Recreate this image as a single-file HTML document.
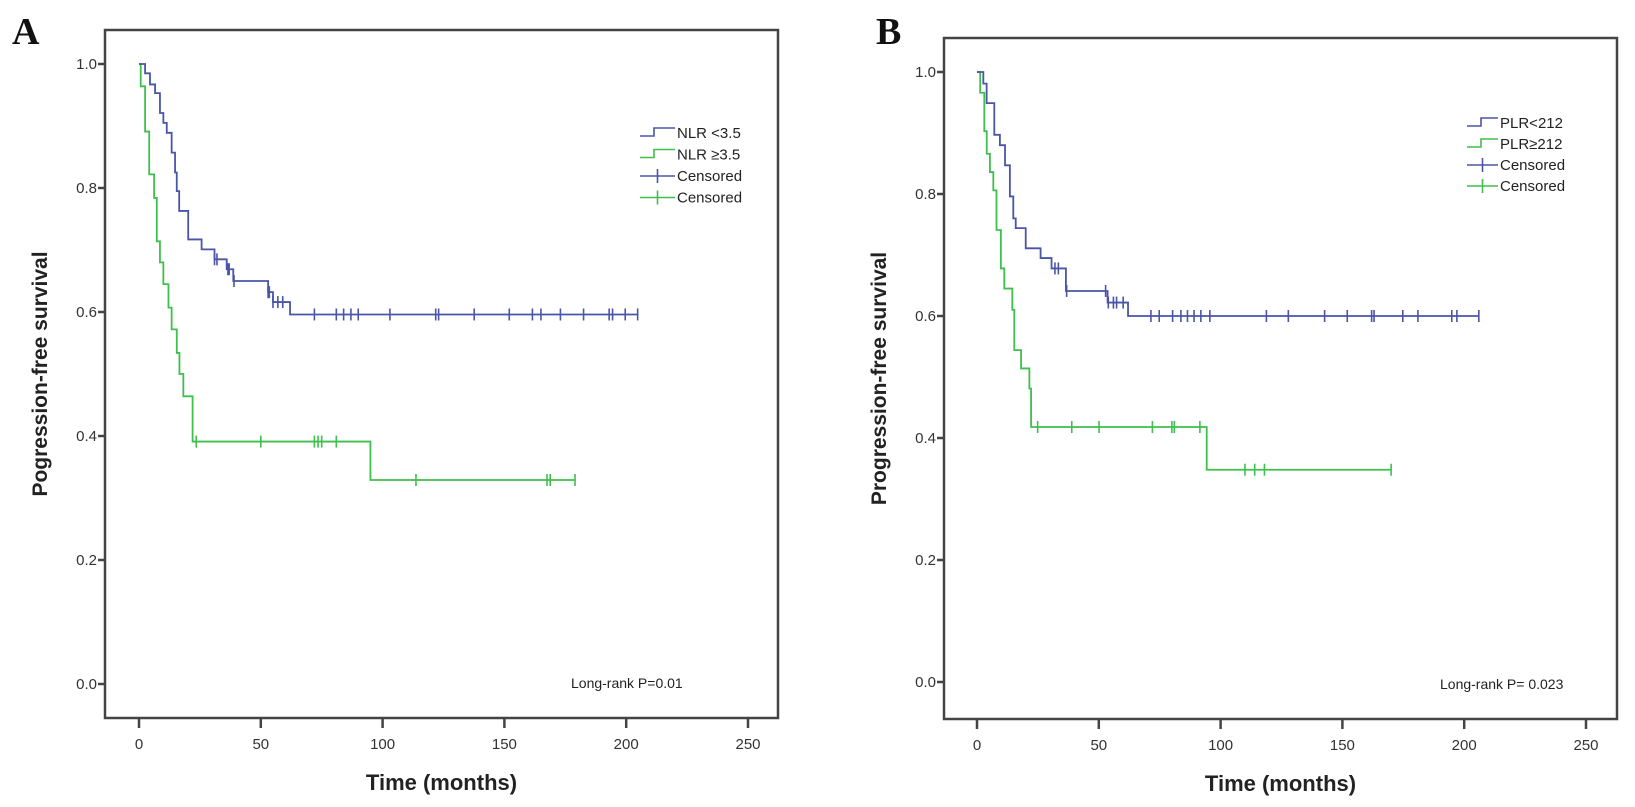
<!DOCTYPE html>
<html><head><meta charset="utf-8"><style>
html,body{margin:0;padding:0;background:#fff}
svg{display:block;font-family:"Liberation Sans",Arial,sans-serif}
</style></head><body>
<svg id="chart" width="1635" height="807" viewBox="0 0 1635 807" xmlns="http://www.w3.org/2000/svg"></svg>
<script>
// ---------- Panel A data ----------
const aBlueTimes = [0,2.5,4.5,6.6,8.6,10,11.4,13.4,14.8,15.5,16.5,20.2,25.7,31,36,38.7,53,55,62];
const aBlueSurv  = [1.0,0.985,0.967,0.953,0.921,0.905,0.889,0.857,0.825,0.795,0.763,0.717,0.701,0.685,0.669,0.65,0.632,0.616,0.596];
const aBlueEnd = 205;
const aBlueCens = [31,32,36.5,37,39,53,53.5,55,57,59,72,81,84,87,90,103,121.8,123,137.6,152,161.5,165,173,182.5,193,194.4,199.6,204.7];
const aGreenTimes = [0,0.7,2.5,4.2,6.2,7.3,8.6,10,12.1,13.4,15.5,16.6,18.2,22,95];
const aGreenSurv  = [1.0,0.964,0.891,0.822,0.784,0.714,0.68,0.645,0.607,0.572,0.534,0.5,0.464,0.391,0.329];
const aGreenEnd = 179;
const aGreenCens = [23.5,50,72,73.5,75,81,113.7,167.5,168.8,179];
// ---------- Panel B data ----------
const bBlueTimes = [0,2.6,3.96,7.1,9.4,11.5,13.5,14.9,15.9,20,26.1,30.6,36.5,53.6,62];
const bBlueSurv  = [1.0,0.981,0.949,0.897,0.88,0.847,0.796,0.76,0.744,0.711,0.695,0.678,0.641,0.622,0.6];
const bBlueEnd = 206;
const bBlueCens = [32,33.4,36.8,52.8,53.9,56,57.3,60,71.4,74.8,80.3,83.7,86.4,89.1,91.9,95.6,118.8,127.8,142.7,152,162,163,174.8,181,194.9,197,206];
const bGreenTimes = [0,1.3,3,4,5.3,6.7,8,9.8,11.2,14.5,15.3,18.1,21.5,22.2,94.3];
const bGreenSurv  = [1.0,0.966,0.903,0.866,0.836,0.806,0.741,0.678,0.645,0.61,0.544,0.514,0.481,0.418,0.348];
const bGreenEnd = 170;
const bGreenCens = [24.9,38.9,50.1,72,80,81,91.5,110,114,118,170];
// ---------- Axis ticks ----------
const xTickVals = [0,50,100,150,200,250];
const yTickVals = [0.0,0.2,0.4,0.6,0.8,1.0];
const yTickLabels = ["0.0","0.2","0.4","0.6","0.8","1.0"];

const BLUE="#4a55a8", GREEN="#3fbf4c", AX="#444";
const svg=document.getElementById('chart');
const NS="http://www.w3.org/2000/svg";
function mk(tag,attrs,parent,text){const e=document.createElementNS(NS,tag);for(const k in attrs)e.setAttribute(k,attrs[k]);if(text!==undefined)e.textContent=text;(parent||svg).appendChild(e);return e;}

function panel(cfg){
  const g=mk('g',{});
  
  
  const xs=t=>cfg.x0+(cfg.x250-cfg.x0)*t/250;
  const ys=s=>cfg.y0+(cfg.y1-cfg.y0)*s;
  const fr=mk('rect',{x:cfg.L,y:cfg.T,width:cfg.R-cfg.L,height:cfg.B-cfg.T,fill:'none',stroke:AX,'stroke-width':2.5},g);
  
  
  xTickVals.forEach(v=>{
    const tk=mk('line',{x1:xs(v),x2:xs(v),y1:cfg.B,y2:cfg.B+10,stroke:AX,'stroke-width':2.5},g);
    
    
    const lb=mk('text',{x:xs(v),y:cfg.B+31,'text-anchor':'middle','font-size':15,fill:'#333'},g,String(v));
    
    
  });
  yTickVals.forEach((v,i)=>{
    const tk=mk('line',{x1:cfg.L-7,x2:cfg.L,y1:ys(v),y2:ys(v),stroke:AX,'stroke-width':2.5},g);
    
    
    const lb=mk('text',{x:cfg.L-8,y:ys(v)+5,'text-anchor':'end','font-size':15,fill:'#333'},g,yTickLabels[i]);
    
    
  });
  function curve(times,surv,end,cens,color,name){
    let d='M'+xs(times[0])+','+ys(surv[0]);
    for(let i=1;i<times.length;i++){d+=' H'+xs(times[i])+' V'+ys(surv[i]);}
    d+=' H'+xs(end);
    const p=mk('path',{d:d,fill:'none',stroke:color,'stroke-width':1.8},g);
    
    
    cens.forEach(t=>{
      let s=surv[0];
      for(let i=0;i<times.length;i++){if(times[i]<=t)s=surv[i];}
      const c=mk('line',{x1:xs(t),x2:xs(t),y1:ys(s)-6,y2:ys(s)+6,stroke:color,'stroke-width':1.6},g);
      
      
    });
  }
  curve(cfg.gt,cfg.gs,cfg.ge,cfg.gc,GREEN,'green');
  curve(cfg.bt,cfg.bs,cfg.be,cfg.bc,BLUE,'blue');
  // legend
  const lg=mk('g',{},g);
  
  
  const items=[[BLUE,cfg.leg[0],'step'],[GREEN,cfg.leg[1],'step'],[BLUE,'Censored','cross'],[GREEN,'Censored','cross']];
  items.forEach((it,i)=>{
    const y=cfg.legY+i*cfg.legDy;
    const lx=cfg.legX;
    if(it[2]==='step'){
      mk('path',{d:`M${lx},${y+3} H${lx+14} V${y-5} H${lx+cfg.legW}`,fill:'none',stroke:it[0],'stroke-width':1.6},lg);
    }else{
      mk('line',{x1:lx,x2:lx+cfg.legW,y1:y,y2:y,stroke:it[0],'stroke-width':1.6},lg);
      mk('line',{x1:lx+cfg.legW/2,x2:lx+cfg.legW/2,y1:y-7,y2:y+7,stroke:it[0],'stroke-width':1.6},lg);
    }
    const t=mk('text',{x:lx+cfg.legW+2,y:y+5,'font-size':15,fill:'#222'},lg,it[1]);
    
    
  });
  const pv=mk('text',{x:cfg.pX,y:cfg.B-30,'font-size':14,fill:'#222'},g,cfg.p);
  
  
  const xt=mk('text',{x:(cfg.L+cfg.R)/2,y:cfg.B+72,'text-anchor':'middle','font-size':22,'font-weight':'bold',fill:'#222'},g,'Time (months)');
  
  
  const cy=(cfg.T+cfg.B)/2;
  const yt=mk('text',{x:cfg.yTitleX,y:cy,'text-anchor':'middle','font-size':21,'font-weight':'bold',fill:'#222',transform:`rotate(-90 ${cfg.yTitleX} ${cy})`},g,cfg.yTitle);
  
  
  const pl=mk('text',{x:cfg.letterX,y:44,'font-size':38,'font-weight':'bold','font-family':'"Liberation Serif",serif',fill:'#111'},g,cfg.id);
  
  
}

panel({id:'A',L:105,R:778,T:30,B:718,x0:139,x250:748,y0:684,y1:64,
  bt:aBlueTimes,bs:aBlueSurv,be:aBlueEnd,bc:aBlueCens,
  gt:aGreenTimes,gs:aGreenSurv,ge:aGreenEnd,gc:aGreenCens,
  leg:['NLR <3.5','NLR \u22653.5'],legX:640,legY:133,legDy:21.5,legW:35,
  p:'Long-rank P=0.01',pX:571,yTitle:'Pogression-free survival',yTitleX:47,letterX:12});
panel({id:'B',L:944,R:1617,T:38,B:719,x0:977,x250:1586,y0:682,y1:72,
  bt:bBlueTimes,bs:bBlueSurv,be:bBlueEnd,bc:bBlueCens,
  gt:bGreenTimes,gs:bGreenSurv,ge:bGreenEnd,gc:bGreenCens,
  leg:['PLR<212','PLR\u2265212'],legX:1467,legY:123,legDy:21,legW:31,
  p:'Long-rank P= 0.023',pX:1440,yTitle:'Progression-free survival',yTitleX:886,letterX:876});
</script>
</body></html>
